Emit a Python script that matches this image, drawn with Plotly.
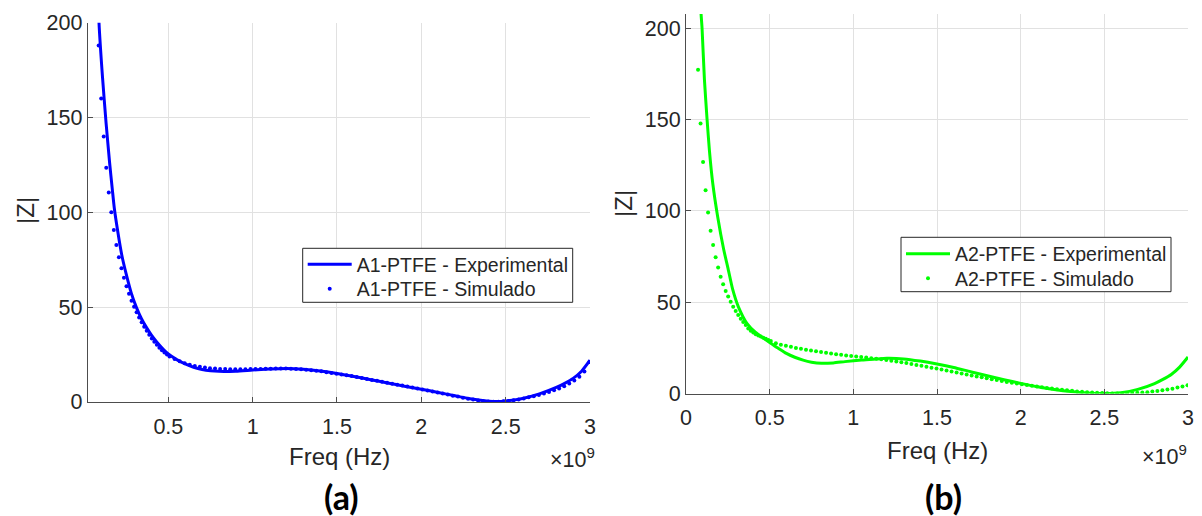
import numpy as np
import plotly.graph_objects as go

# ---------------- data (frequency in GHz, |Z| in ohm) ----------------
# measured curves
F_EXP_A1 = [0.060, 0.075, 0.089, 0.110, 0.131, 0.152, 0.168, 0.180, 0.200, 0.224,
            0.250, 0.280, 0.310, 0.340, 0.370, 0.400, 0.430, 0.470, 0.500, 0.550,
            0.600, 0.650, 0.700, 0.750, 0.800, 0.900, 1.000, 1.100, 1.200, 1.300,
            1.400, 1.500, 1.600, 1.700, 1.800, 1.900, 2.000, 2.100, 2.200, 2.300,
            2.400, 2.450, 2.500, 2.600, 2.700, 2.800, 2.850, 2.900, 2.950, 3.000]
Z_EXP_A1 = [300, 245, 200, 171, 147, 126, 112, 102, 90, 77.5,
            67.5, 57.5, 50.0, 44.0, 39.3, 35.2, 31.8, 27.8, 25.3, 22.3,
            20.0, 18.3, 17.1, 16.4, 16.1, 16.2, 16.8, 17.3, 17.6, 17.2,
            16.3, 15.0, 13.4, 11.7, 10.0, 8.3, 6.7, 5.0, 3.2, 1.5,
            0.4, 0.2, 0.5, 1.8, 4.2, 7.6, 9.8, 12.4, 16.2, 22.0]

F_EXP_A2 = [0.070, 0.090, 0.096, 0.110, 0.126, 0.140, 0.160, 0.189, 0.225, 0.250,
            0.279, 0.313, 0.365, 0.414, 0.458, 0.500, 0.550, 0.600, 0.650, 0.700,
            0.750, 0.810, 0.880, 0.950, 1.050, 1.130, 1.200, 1.300, 1.400, 1.500,
            1.600, 1.700, 1.800, 1.900, 2.000, 2.100, 2.200, 2.300, 2.400, 2.500,
            2.600, 2.700, 2.800, 2.850, 2.900, 2.950, 3.000]
Z_EXP_A2 = [270, 208, 200, 172, 150, 133, 115, 97, 79, 69,
            57, 47.5, 38.3, 33.6, 30.7, 28.0, 24.9, 22.0, 19.9, 18.3,
            17.2, 16.6, 16.8, 17.5, 18.4, 18.9, 19.3, 19.0, 17.8, 16.2,
            14.3, 12.0, 9.8, 7.6, 5.6, 3.8, 2.3, 1.1, 0.3, 0.0,
            0.5, 2.3, 5.5, 7.8, 10.5, 14.5, 20.0]

# simulated sweep (shared frequency points)
F_SIM = [0.072, 0.087, 0.102, 0.117, 0.132, 0.147, 0.162, 0.177, 0.192, 0.207,
         0.222, 0.237, 0.252, 0.267, 0.282, 0.297, 0.312, 0.327, 0.342, 0.357,
         0.372, 0.387, 0.402, 0.417, 0.432, 0.447, 0.462, 0.477, 0.492, 0.507,
         0.537, 0.567, 0.597, 0.627, 0.657, 0.687, 0.717, 0.747, 0.777, 0.807,
         0.837, 0.867, 0.897, 0.927, 0.957, 0.987, 1.017, 1.047, 1.077, 1.107,
         1.137, 1.167, 1.197, 1.227, 1.257, 1.287, 1.317, 1.347, 1.377, 1.407,
         1.437, 1.467, 1.497, 1.527, 1.557, 1.587, 1.617, 1.647, 1.677, 1.707,
         1.737, 1.767, 1.797, 1.827, 1.857, 1.887, 1.917, 1.947, 1.977, 2.007,
         2.037, 2.067, 2.097, 2.127, 2.157, 2.187, 2.217, 2.247, 2.277, 2.307,
         2.337, 2.367, 2.397, 2.427, 2.457, 2.487, 2.517, 2.547, 2.577, 2.607,
         2.637, 2.667, 2.697, 2.727, 2.757, 2.787, 2.817, 2.847, 2.877, 2.907,
         2.937, 2.967, 2.997]

Z_SIM_A1 = [218, 188, 160, 140, 123.5, 110.5, 100, 90.7, 82.8, 76.3,
            70.5, 65.5, 61.0, 57.0, 53.4, 50.2, 47.3, 44.5, 42.0, 39.7,
            37.5, 35.4, 33.4, 31.7, 30.1, 28.6, 27.3, 26.1, 25.0, 24.0,
            22.6, 21.4, 20.4, 19.6, 19.0, 18.5, 18.1, 17.8, 17.6, 17.4,
            17.3, 17.2, 17.2, 17.2, 17.2, 17.3, 17.3, 17.4, 17.5, 17.5,
            17.6, 17.6, 17.6, 17.5, 17.4, 17.2, 17.0, 16.7, 16.4, 16.1,
            15.7, 15.3, 14.9, 14.5, 14.0, 13.6, 13.1, 12.6, 12.1, 11.6,
            11.1, 10.6, 10.1, 9.6, 9.1, 8.6, 8.1, 7.6, 7.1, 6.6,
            6.0, 5.5, 5.0, 4.4, 3.9, 3.3, 2.8, 2.2, 1.7, 1.2,
            0.8, 0.4, 0.2, 0.1, 0.1, 0.3, 0.5, 0.9, 1.3, 1.8,
            2.4, 3.0, 3.7, 4.4, 5.2, 6.1, 7.1, 8.3, 9.7, 11.3,
            13.3, 16.0, 21.0]

Z_SIM_A2 = [177.3, 147.8, 126.8, 111.3, 99.1, 89.2, 81.3, 74.6, 69.0, 64.0,
            59.9, 56.2, 53.1, 50.3, 47.6, 45.2, 43.0, 41.0, 39.2, 37.6,
            35.6, 34.4, 33.4, 32.5, 31.8, 31.2, 30.6, 30.0, 29.4, 28.8,
            27.6, 26.8, 26.2, 25.6, 25.0, 24.5, 24.0, 23.6, 23.2, 22.8,
            22.4, 22.0, 21.6, 21.2, 20.9, 20.6, 20.3, 20.0, 19.7, 19.4,
            19.1, 18.8, 18.4, 18.0, 17.6, 17.1, 16.7, 16.2, 15.7, 15.2,
            14.7, 14.2, 13.7, 13.2, 12.6, 12.1, 11.5, 11.0, 10.4, 9.9,
            9.4, 8.9, 8.4, 7.9, 7.4, 6.9, 6.4, 6.0, 5.5, 5.1,
            4.7, 4.3, 3.9, 3.5, 3.1, 2.8, 2.4, 2.1, 1.8, 1.5,
            1.2, 1.0, 0.8, 0.6, 0.4, 0.3, 0.2, 0.1, 0.1, 0.1,
            0.2, 0.3, 0.4, 0.6, 0.8, 1.1, 1.4, 1.8, 2.2, 2.7,
            3.3, 3.9, 4.6]

X_TICKS_A = [0.5, 1.0, 1.5, 2.0, 2.5, 3.0]
X_TICKS_B = [0.0, 0.5, 1.0, 1.5, 2.0, 2.5, 3.0]
X_TICK_TEXT_A = ["0.5", "1", "1.5", "2", "2.5", "3"]
X_TICK_TEXT_B = ["0", "0.5", "1", "1.5", "2", "2.5", "3"]
Y_TICKS = [0, 50, 100, 150, 200]

BLUE = "#0000ff"
GREEN = "#00ff00"
INK = "#262626"
AXIS = "#4d4d4d"
GRID = "#e1e1e1"
FONT = "Liberation Sans, Arial, sans-serif"

W, H = 1202, 516
GHZ = 1e9

def hz(values):
    return np.asarray(values) * GHZ

def px_x(p):
    return p / W

def px_y(p):
    return 1 - p / H

fig = go.Figure()

# panel (a)
fig.add_trace(go.Scatter(x=hz(F_EXP_A1), y=Z_EXP_A1, mode="lines",
                         line=dict(color=BLUE, width=3, shape="spline", smoothing=0.6),
                         name="A1-PTFE - Experimental", xaxis="x", yaxis="y",
                         legend="legend"))
fig.add_trace(go.Scatter(x=hz(F_SIM), y=Z_SIM_A1, mode="markers",
                         marker=dict(color=BLUE, size=4),
                         name="A1-PTFE - Simulado", xaxis="x", yaxis="y",
                         legend="legend2"))

# panel (b)
fig.add_trace(go.Scatter(x=hz(F_EXP_A2), y=Z_EXP_A2, mode="lines",
                         line=dict(color=GREEN, width=3, shape="spline", smoothing=0.6),
                         name="A2-PTFE - Experimental", xaxis="x2", yaxis="y2",
                         legend="legend3"))
fig.add_trace(go.Scatter(x=hz(F_SIM), y=Z_SIM_A2, mode="markers",
                         marker=dict(color=GREEN, size=4),
                         name="A2-PTFE - Simulado", xaxis="x2", yaxis="y2",
                         legend="legend4"))

axis_common = dict(showgrid=True, gridcolor=GRID, gridwidth=1, zeroline=False,
                   showline=True, linecolor=AXIS, linewidth=1, ticks="inside",
                   ticklen=5, tickcolor=AXIS, tickwidth=1, automargin=False,
                   tickfont=dict(family=FONT, size=21.5, color=INK))

# one legend row per entry so the row pitch follows the boxed legend
def legend_row(x_px, y_px):
    return dict(x=px_x(x_px), y=px_y(y_px), xanchor="left", yanchor="middle",
                bgcolor="rgba(0,0,0,0)", borderwidth=0, itemwidth=44,
                font=dict(family=FONT, size=19.5, color=INK))

fig.update_layout(
    width=W, height=H, autosize=False,
    margin=dict(l=0, r=0, t=0, b=0, pad=0, autoexpand=False),
    paper_bgcolor="white", plot_bgcolor="white",
    xaxis=dict(domain=[px_x(87.7), px_x(590)], range=[0.022 * GHZ, 3 * GHZ],
               tickvals=hz(X_TICKS_A), ticktext=X_TICK_TEXT_A, anchor="y",
               ticklabelstandoff=5, **axis_common),
    yaxis=dict(domain=[px_y(401.9), px_y(22.7)], range=[0, 200],
               tickvals=Y_TICKS, anchor="x", **axis_common),
    xaxis2=dict(domain=[px_x(686), px_x(1188)], range=[0, 3 * GHZ],
                tickvals=hz(X_TICKS_B), ticktext=X_TICK_TEXT_B, anchor="y2",
                ticklabelstandoff=5, **axis_common),
    yaxis2=dict(domain=[px_y(393.6), px_y(14)], range=[0, 207.8],
                tickvals=Y_TICKS, anchor="x2", **axis_common),
    legend=legend_row(302.7, 264.5),
    legend2=legend_row(302.7, 289),
    legend3=legend_row(901, 254),
    legend4=legend_row(901, 278.5),
    showlegend=True,
)

# legend frames (white fill hides the grid behind the legend text)
for x0, y0, x1, y1 in [(302.7, 248.3, 572.7, 302.3), (901, 237.3, 1171, 291.7)]:
    fig.add_shape(type="rect", xref="paper", yref="paper",
                  x0=px_x(x0), x1=px_x(x1), y0=px_y(y1), y1=px_y(y0),
                  fillcolor="white", line=dict(color=INK, width=1), layer="above")

label_font = dict(family=FONT, size=24, color=INK)
ann = []
# y-axis titles
ann.append(dict(text="|Z|", x=px_x(25), y=px_y(211), textangle=-90, font=label_font))
ann.append(dict(text="|Z|", x=px_x(623), y=px_y(204), textangle=-90, font=label_font))
# x-axis titles
ann.append(dict(text="Freq (Hz)", x=px_x(339), y=px_y(456), font=label_font))
ann.append(dict(text="Freq (Hz)", x=px_x(937), y=px_y(450), font=label_font))
# exponent labels
exp_font = dict(family=FONT, size=21.5, color=INK)
ann.append(dict(text="\u00d710<sup>9</sup>", x=px_x(597), y=px_y(458),
                xanchor="right", font=exp_font))
ann.append(dict(text="\u00d710<sup>9</sup>", x=px_x(1189), y=px_y(455),
                xanchor="right", font=exp_font))
# panel captions
cap_font = dict(family="Lato, Open Sans, sans-serif", size=34, color="#000000")
ann.append(dict(text="<b>(a)</b>", x=px_x(341), y=px_y(496), font=cap_font))
ann.append(dict(text="<b>(b)</b>", x=px_x(943), y=px_y(496), font=cap_font))

for a in ann:
    a.setdefault("xanchor", "center")
    a.update(xref="paper", yref="paper", yanchor="middle", showarrow=False)
fig.update_layout(annotations=ann)

# keep the page exactly the size of the figure (no body margin / scrollbars)
page_css = ("document.documentElement.style.margin='0';"
            "document.body.style.margin='0';"
            "document.body.style.overflow='hidden';")
fig.write_html("out.html", post_script=page_css)
